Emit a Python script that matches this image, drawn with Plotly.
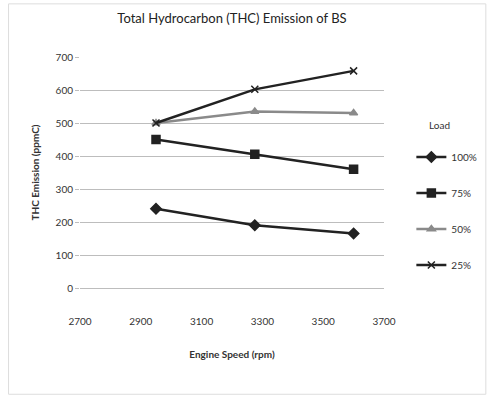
import plotly.graph_objects as go

speed = [2950, 3275, 3600]
load_names = ["100%", "75%", "50%", "25%"]
thc_100 = [240, 190, 165]
thc_75 = [450, 405, 360]
thc_50 = [500, 535, 530]
thc_25 = [500, 602, 658]
x_ticks = [2700, 2900, 3100, 3300, 3500, 3700]
y_ticks = [0, 100, 200, 300, 400, 500, 600, 700]

series = [thc_100, thc_75, thc_50, thc_25]
symbols = ["diamond", "square", "triangle-up", "x-thin-open"]
colors = ["#222222", "#222222", "#8a8a8a", "#222222"]
msizes = [8, 8, 7, 7]

FONT = "Liberation Sans Narrow, Lato, sans-serif"

fig = go.Figure()
for name, vals, sym, col, ms in zip(load_names, series, symbols, colors, msizes):
    fig.add_trace(go.Scatter(
        x=speed, y=vals, name=name, mode="lines+markers",
        legendgroup=name,
        line=dict(color=col, width=2.5),
        marker=dict(symbol=sym, size=ms, color=col, line=dict(color=col, width=1.5)),
    ))

fig.update_layout(
    width=494, height=403,
    margin=dict(l=80, r=108, t=57, b=115),
    paper_bgcolor="white", plot_bgcolor="white",
    font=dict(family=FONT, size=11, color="#333333"),
    title=dict(text="Total Hydrocarbon (THC) Emission of BS", x=0.5, xref="paper",
               y=0.955, yanchor="middle", font=dict(size=13, color="#222222")),
    showlegend=True,
    legend=dict(
        x=1.09, xanchor="left", y=0.63, yanchor="top",
        font=dict(size=10), tracegroupgap=17, bgcolor="rgba(0,0,0,0)",
    ),
    annotations=[dict(text="Load", xref="paper", yref="paper", x=1.14, y=0.705,
                      xanchor="left", yanchor="middle", showarrow=False, font=dict(size=10))],
    shapes=[dict(type="rect", xref="paper", yref="paper", x0=-0.235, x1=1.335, y0=-0.46, y1=1.23,
                 line=dict(color="#dddddd", width=1))],
)
fig.update_xaxes(range=[2700, 3700], tickvals=x_ticks, showgrid=False, zeroline=False,
                 showline=True, linecolor="#bdbdbd", linewidth=1, ticks="", tickfont=dict(size=10),
                 ticklabelstandoff=24,
                 title=dict(text="<b>Engine Speed (rpm)</b>", font=dict(size=10), standoff=24))
fig.update_yaxes(range=[0, 700], tickvals=y_ticks, showgrid=True, gridcolor="#bdbdbd",
                 gridwidth=1, zeroline=False, showline=False, ticks="outside", ticklen=4,
                 tickcolor="#bdbdbd", tickfont=dict(size=10),
                 title=dict(text="<b>THC Emission (ppmC)</b>", font=dict(size=10), standoff=14))

fig.write_html("out.html")
